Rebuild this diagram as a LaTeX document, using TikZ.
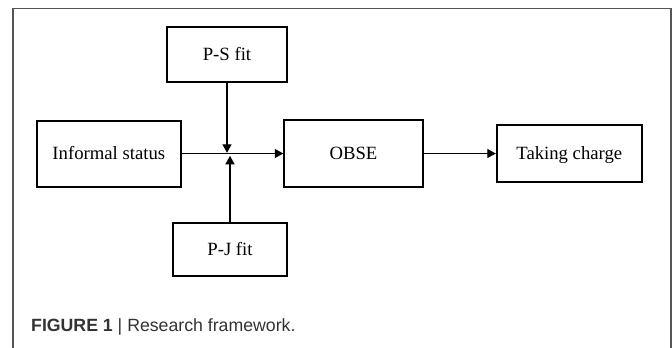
\documentclass[tikz,border=0pt]{standalone}
\usepackage{fontspec}
\setmainfont{Liberation Serif}
\setsansfont{Liberation Sans}
\usepackage{tikz}
\usetikzlibrary{arrows.meta,positioning,calc}
\definecolor{gris}{HTML}{555555}
\definecolor{legende}{HTML}{333333}

\begin{document}
\begin{tikzpicture}[x=1pt,y=-1pt]
\tikzstyle{boite}=[draw,line width=2pt,rectangle,inner sep=0pt,text height=12.4pt,text depth=0pt,font=\fontsize{18.7}{20}\selectfont]
\tikzstyle{fleche}=[-{Triangle[length=8.5pt,width=9pt]},line width=1.3pt]
\tikzstyle{cadre}=[draw=gris,line width=1.5pt]
\def\NiveauCentre{153.5}
\useasboundingbox (0,0) rectangle (672,348);
\draw[cadre] (13,348) -- (13,8.5) -- (671,8.5) -- (671,348);
\node[boite,minimum width=143.8pt,minimum height=66pt] (Inf) at (108.8,\NiveauCentre) {Informal status};
\node[boite,minimum width=138.4pt,minimum height=67pt] (OBSE) at (353.5,\NiveauCentre) {OBSE};
\node[boite,minimum width=145pt,minimum height=56.7pt] (TC) at (569.3,\NiveauCentre) {Taking charge};
\node[boite,minimum width=119.4pt,minimum height=54.4pt] (PS) at (227,54.5) {P-S fit};
\node[boite,minimum width=114.5pt,minimum height=53.3pt] (PJ) at (230,249.4) {P-J fit};
\coordinate (Jhaut) at (227,152.8);
\coordinate (Jbas) at (230,155.8);
\draw[fleche] (Inf) -- (OBSE);
\draw[fleche] (OBSE) -- (TC);
\draw[fleche] (PS) -- (Jhaut);
\draw[fleche] (PJ) -- (Jbas);
\node[anchor=base west,inner sep=0pt,text=legende,font=\sffamily\fontsize{17.7}{20}\selectfont] (Leg) at (31,331.7) {\textbf{FIGURE 1} | Research framework.};
\end{tikzpicture}
\end{document}
